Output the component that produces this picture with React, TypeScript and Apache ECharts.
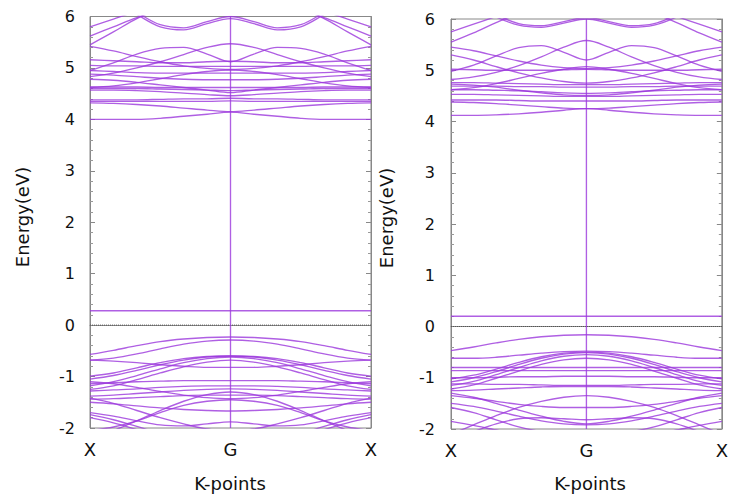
import React, { useEffect, useRef } from "react";
import * as echarts from "echarts";

// k-path: X -> G -> X ; bands are given from X to G (7 k-points) and are symmetric about G
const kLabels = ["X", "G", "X"];
const yTicks = [-2, -1, 0, 1, 2, 3, 4, 5, 6];

const leftConduction: number[][] = [
  [4.0, 4.0, 4.0, 4.02, 4.06, 4.1, 4.14],
  [4.32, 4.31, 4.29, 4.26, 4.22, 4.18, 4.15],
  [4.35, 4.35, 4.35, 4.35, 4.35, 4.35, 4.36],
  [4.38, 4.38, 4.38, 4.39, 4.4, 4.4, 4.41],
  [4.57, 4.57, 4.56, 4.54, 4.51, 4.48, 4.46],
  [4.6, 4.6, 4.6, 4.59, 4.58, 4.57, 4.56],
  [4.63, 4.63, 4.63, 4.62, 4.62, 4.62, 4.62],
  [4.78, 4.76, 4.72, 4.67, 4.62, 4.57, 4.52],
  [4.62, 4.65, 4.71, 4.79, 4.87, 4.93, 4.96],
  [4.88, 4.86, 4.83, 4.8, 4.78, 4.77, 4.77],
  [4.95, 4.93, 4.91, 4.9, 4.9, 4.9, 4.9],
  [5.05, 5.04, 5.04, 5.03, 5.03, 5.03, 5.03],
  [4.95, 5.1, 5.27, 5.38, 5.4, 5.27, 5.12],
  [4.83, 4.9, 5.0, 5.12, 5.26, 5.4, 5.47],
  [5.16, 5.14, 5.12, 5.1, 5.1, 5.12, 5.13],
  [5.42, 5.33, 5.22, 5.12, 5.04, 4.99, 4.97],
  [5.45, 5.7, 5.96, 6.15, 6.25, 6.28, 6.28],
  [5.62, 5.8, 5.98, 6.12, 6.2, 6.2, 6.2],
  [5.8, 5.95, 6.1, 6.2, 6.3, 6.3, 6.3],
  [6.5, 6.3, 6.04, 5.8, 5.74, 5.86, 5.96],
  [6.55, 6.35, 6.08, 5.84, 5.78, 5.9, 6.0],
];

const leftValence: number[][] = [
  [0.28, 0.28, 0.28, 0.28, 0.28, 0.28, 0.28],
  [-0.57, -0.49, -0.4, -0.32, -0.27, -0.24, -0.23],
  [-0.68, -0.64, -0.56, -0.46, -0.37, -0.31, -0.29],
  [-0.99, -0.93, -0.83, -0.73, -0.65, -0.61, -0.6],
  [-1.05, -0.98, -0.88, -0.77, -0.68, -0.62, -0.6],
  [-1.18, -1.1, -0.98, -0.85, -0.73, -0.65, -0.62],
  [-1.25, -1.18, -1.06, -0.93, -0.81, -0.72, -0.68],
  [-0.68, -0.7, -0.73, -0.77, -0.8, -0.82, -0.82],
  [-1.14, -1.12, -1.1, -1.09, -1.08, -1.08, -1.08],
  [-1.28, -1.26, -1.24, -1.21, -1.19, -1.18, -1.18],
  [-1.38, -1.36, -1.33, -1.3, -1.27, -1.25, -1.24],
  [-1.42, -1.52, -1.66, -1.8, -1.92, -2.02, -2.06],
  [-2.2, -2.05, -1.86, -1.66, -1.48, -1.35, -1.3],
  [-2.05, -1.98, -1.86, -1.7, -1.56, -1.48, -1.45],
  [-1.5, -1.53, -1.57, -1.61, -1.64, -1.66, -1.67],
  [-1.7, -1.77, -1.86, -1.94, -1.96, -1.92, -1.88],
  [-1.74, -1.84, -1.97, -2.1, -2.2, -2.25, -2.25],
  [-1.8, -1.9, -2.03, -2.15, -2.25, -2.3, -2.3],
  [-1.1, -1.14, -1.21, -1.29, -1.36, -1.41, -1.43],
  [-1.44, -1.43, -1.41, -1.39, -1.37, -1.36, -1.36],
];

const rightConduction: number[][] = [
  [4.12, 4.12, 4.13, 4.15, 4.18, 4.22, 4.25],
  [4.38, 4.37, 4.35, 4.32, 4.29, 4.26, 4.25],
  [4.42, 4.42, 4.42, 4.41, 4.4, 4.4, 4.4],
  [4.53, 4.53, 4.52, 4.51, 4.5, 4.49, 4.49],
  [4.73, 4.71, 4.67, 4.61, 4.56, 4.52, 4.51],
  [4.62, 4.62, 4.61, 4.6, 4.58, 4.56, 4.55],
  [4.69, 4.69, 4.69, 4.68, 4.68, 4.67, 4.67],
  [4.76, 4.76, 4.75, 4.74, 4.73, 4.72, 4.72],
  [4.62, 4.66, 4.74, 4.84, 4.94, 5.02, 5.07],
  [5.3, 5.2, 5.07, 4.95, 4.85, 4.78, 4.75],
  [4.98, 5.1, 5.28, 5.44, 5.48, 5.35, 5.2],
  [4.82, 4.87, 4.96, 5.09, 5.26, 5.45, 5.58],
  [5.02, 5.01, 5.0, 5.0, 5.0, 5.01, 5.02],
  [5.45, 5.38, 5.28, 5.18, 5.1, 5.05, 5.03],
  [5.55, 5.73, 5.93, 6.1, 6.2, 6.25, 6.25],
  [5.75, 5.9, 6.05, 6.2, 6.3, 6.3, 6.3],
  [6.5, 6.28, 6.04, 5.88, 5.84, 5.92, 6.0],
  [6.55, 6.32, 6.08, 5.91, 5.87, 5.95, 6.03],
];

const rightValence: number[][] = [
  [0.2, 0.2, 0.2, 0.2, 0.2, 0.2, 0.2],
  [-0.47, -0.4, -0.32, -0.25, -0.2, -0.17, -0.16],
  [-0.62, -0.62, -0.6, -0.56, -0.52, -0.49, -0.48],
  [-1.02, -0.95, -0.83, -0.7, -0.59, -0.52, -0.5],
  [-1.08, -1.0, -0.88, -0.74, -0.62, -0.54, -0.51],
  [-1.15, -1.07, -0.94, -0.8, -0.67, -0.58, -0.55],
  [-1.22, -1.14, -1.01, -0.87, -0.74, -0.65, -0.62],
  [-0.8, -0.8, -0.8, -0.8, -0.8, -0.8, -0.8],
  [-0.86, -0.86, -0.86, -0.86, -0.86, -0.86, -0.86],
  [-1.0, -1.0, -0.99, -0.98, -0.98, -0.97, -0.97],
  [-1.12, -1.12, -1.13, -1.13, -1.14, -1.15, -1.15],
  [-1.25, -1.24, -1.22, -1.2, -1.18, -1.17, -1.17],
  [-1.3, -1.38, -1.5, -1.63, -1.75, -1.85, -1.9],
  [-2.1, -1.92, -1.74, -1.58, -1.46, -1.38, -1.35],
  [-1.35, -1.4, -1.46, -1.52, -1.56, -1.58, -1.58],
  [-1.5, -1.56, -1.65, -1.75, -1.84, -1.9, -1.92],
  [-1.58, -1.68, -1.82, -1.96, -2.05, -2.1, -2.1],
  [-1.85, -1.93, -2.02, -2.1, -2.15, -2.18, -2.18],
  [-2.2, -2.05, -1.9, -1.8, -1.78, -1.8, -1.82],
];

const BAND = "rgba(155, 55, 220, 0.8)";
const FONT = "DejaVu Sans";

function fullPath(half: number[]): number[] {
  return half.concat(half.slice(0, half.length - 1).reverse());
}

function bandSeries(bands: number[][], gi: number) {
  return bands.map((b) => ({
    type: "line",
    xAxisIndex: gi,
    yAxisIndex: gi * 2,
    data: fullPath(b).map((e, i) => [i, e]),
    smooth: 0.35,
    symbol: "none",
    silent: true,
    clip: true,
    lineStyle: { color: BAND, width: 1.35 },
    z: 3,
  }));
}

function guideSeries(gi: number) {
  return [
    {
      type: "line",
      xAxisIndex: gi,
      yAxisIndex: gi * 2,
      data: [
        [0, 0],
        [12, 0],
      ],
      symbol: "none",
      silent: true,
      lineStyle: { color: "#555", width: 1, type: "dotted" },
      z: 2,
    },
    {
      type: "line",
      xAxisIndex: gi,
      yAxisIndex: gi * 2,
      data: [
        [6, yTicks[0]],
        [6, yTicks[yTicks.length - 1]],
      ],
      symbol: "none",
      silent: true,
      lineStyle: { color: BAND, width: 1.35 },
      z: 3,
    },
  ];
}

export default function App() {
  const ref = useRef<HTMLDivElement>(null);
  useEffect(() => {
    if (!ref.current) return;
    const chart = echarts.init(ref.current, undefined, { renderer: "svg" });
    const grids = [
      { left: 90, top: 16.5, width: 281, height: 411.5 },
      { left: 451, top: 19, width: 279, height: 410 },
    ];
    const xAxes = grids.map((_, gi) => ({
      type: "value",
      gridIndex: gi,
      min: 0,
      max: 12,
      interval: 6,
      axisLine: { show: true, lineStyle: { color: "#888", width: 1 } },
      axisTick: { show: false },
      splitLine: { show: false },
      axisLabel: {
        margin: 12,
        fontFamily: FONT,
        fontSize: 18,
        color: "#111",
        formatter: (v: number) => kLabels[Math.round(v / 6)] ?? "",
      },
    }));
    const yAxes: any[] = [];
    grids.forEach((_, gi) => {
      const base = {
        type: "value",
        gridIndex: gi,
        min: yTicks[0],
        max: yTicks[yTicks.length - 1],
        interval: 1,
        splitLine: { show: false },
        axisLine: { show: true, lineStyle: { color: "#888", width: 1 } },
        axisTick: { show: true, inside: true, length: 5, lineStyle: { color: "#888" } },
        minorTick: { show: true, splitNumber: 5, length: 3, lineStyle: { color: "#999" } },
        minorSplitLine: { show: false },
      };
      yAxes.push({
        ...base,
        position: "left",
        axisLabel: {
          margin: gi === 0 ? 15 : 16,
          fontFamily: FONT,
          fontSize: 16,
          color: "#111",
        },
      });
      yAxes.push({
        ...base,
        position: "right",
        axisLabel: { show: false },
      });
    });
    const series: any[] = [
      ...guideSeries(0),
      ...guideSeries(1),
      ...bandSeries(leftConduction, 0),
      ...bandSeries(leftValence, 0),
      ...bandSeries(rightConduction, 1),
      ...bandSeries(rightValence, 1),
    ];
    const textStyle = (t: string) => ({
      text: t,
      font: `18px "${FONT}"`,
      fill: "#111",
      textAlign: "center",
      textVerticalAlign: "middle",
    });
    chart.setOption({
      animation: false,
      backgroundColor: "#fff",
      grid: grids.map((g) => ({ ...g, show: true, borderColor: "#888", borderWidth: 1, backgroundColor: "transparent" })),
      xAxis: xAxes,
      yAxis: yAxes,
      series,
      graphic: [
        { type: "text", x: 22, y: 217, rotation: Math.PI / 2, style: textStyle("Energy(eV)") },
        { type: "text", x: 386, y: 218, rotation: Math.PI / 2, style: textStyle("Energy(eV)") },
        { type: "text", x: 230, y: 483, style: textStyle("K-points") },
        { type: "text", x: 590, y: 483, style: textStyle("K-points") },
      ],
    });
    return () => chart.dispose();
  }, []);
  return (
    <div
      ref={ref}
      style={{ position: "absolute", left: 0, top: 0, width: 731, height: 500 }}
    />
  );
}
